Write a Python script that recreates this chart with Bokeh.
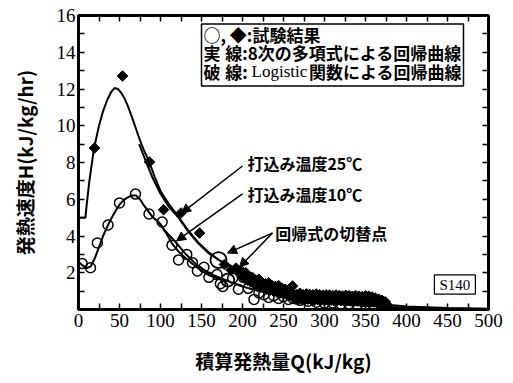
import math
from bokeh.plotting import figure
from bokeh.models import Range1d, FixedTicker, LinearAxis, Label, Arrow, NormalHead, BoxAnnotation
from bokeh.embed import file_html
from bokeh.resources import INLINE

# ---- measured data: 25°C placement (filled diamonds) ----
q25 = [19.5, 53.7, 86.6, 103.7, 125, 147.6, 178, 186, 192, 198,
       # descending band
       200, 204, 208, 212, 216, 220, 224, 228, 232, 236, 240, 244, 248, 252, 256, 261,
       202, 206, 210, 214, 218, 222, 226, 230, 234, 238, 242, 246, 250, 254, 258,
       # dense tail, upper row
       262, 266, 270, 274, 278, 282, 286, 290, 294, 298, 302, 306, 310, 314, 318, 322,
       326, 330, 334, 338, 342, 346, 350, 354, 358, 362, 366, 370, 374,
       # dense tail, lower row
       264, 268, 272, 276, 280, 284, 288, 292, 296, 300, 304, 308, 312, 316, 320, 324,
       328, 332, 336, 340, 344, 348, 352, 356, 360, 364, 368, 372, 376]
h25 = [8.79, 12.71, 8.03, 5.43, 5.25, 4.16, 2.45, 2.15, 2.25, 1.9,
       2.05, 2.0, 1.8, 1.75, 1.6, 1.65, 1.45, 1.4, 1.45, 1.3, 1.25, 1.3, 1.15, 1.1, 1.05, 1.28,
       1.7, 1.6, 1.5, 1.4, 1.35, 1.25, 1.2, 1.1, 1.05, 1.0, 0.95, 0.9, 0.85, 0.8, 0.78,
       0.85, 0.82, 0.88, 0.8, 0.85, 0.82, 0.8, 0.84, 0.8, 0.77, 0.8, 0.78, 0.75, 0.79, 0.76,
       0.73, 0.77, 0.75, 0.72, 0.76, 0.72, 0.7, 0.74, 0.72, 0.68, 0.62, 0.56, 0.5, 0.42,
       0.56, 0.54, 0.58, 0.52, 0.56, 0.52, 0.5, 0.54, 0.52, 0.48, 0.52, 0.5, 0.47, 0.5, 0.48,
       0.46, 0.49, 0.47, 0.45, 0.48, 0.46, 0.44, 0.47, 0.45, 0.42, 0.38, 0.34, 0.3, 0.27]

# ---- measured data: 10°C placement (open circles) ----
q10 = [4.5, 14.6, 23, 36, 50, 69.5, 86, 102, 114, 122, 132, 139, 145, 153, 159, 169,
       173, 176, 188, 195, 201, 207, 214, 220, 226, 232, 238, 244, 250, 256, 262, 270,
       280, 290, 300, 310, 320, 330, 340, 350, 360]
h10 = [2.5, 2.27, 3.62, 4.6, 5.8, 6.28, 5.2, 4.76, 3.5, 2.7, 3.0, 2.55, 2.1, 2.3, 1.75, 1.9,
       1.4, 1.25, 1.7, 1.1, 1.75, 1.15, 0.55, 0.9, 0.8, 0.65, 0.75, 0.6, 0.7, 0.55, 0.6, 0.5,
       0.45, 0.4, 0.35, 0.35, 0.3, 0.3, 0.25, 0.25, 0.2]

# ---- regression curves ----
poly25_q = [2, 8.5, 9.5, 11, 13, 15.5, 18, 21, 25, 30, 35, 40, 44, 48, 52, 56, 60, 65, 70,
            75, 80, 86.6, 93, 100, 110, 121, 133, 146, 159, 171]
poly25_h = [5.0, 5.0, 5.5, 6.1, 6.9, 7.7, 8.5, 9.2, 10.0, 10.8, 11.4, 11.85, 12.05, 12.0,
            11.8, 11.5, 11.1, 10.5, 9.85, 9.2, 8.65, 8.0, 7.2, 6.45, 5.75, 5.1, 4.35, 3.65,
            3.1, 2.7]
logi25_q = [74, 80, 90, 100, 110, 122, 133, 146, 159, 171, 185, 200, 215, 230, 250, 275,
            300, 330, 360, 380, 400, 450, 500]
logi25_h = [9.0, 8.3, 7.2, 6.3, 5.6, 5.0, 4.3, 3.6, 3.05, 2.7, 2.35, 2.0, 1.7, 1.42, 1.1,
            0.85, 0.65, 0.5, 0.38, 0.25, 0.17, 0.08, 0.04]
poly10_q = [0, 5, 10, 15, 20, 25, 30, 35, 40, 45, 50, 55, 60, 65, 70, 75, 80, 90, 100, 107,
            114, 121, 128, 140, 150, 160, 172, 182]
poly10_h = [2.6, 2.4, 2.25, 2.35, 2.8, 3.4, 4.0, 4.5, 4.95, 5.35, 5.7, 5.95, 6.1, 6.2, 6.2,
            6.0, 5.65, 5.05, 4.65, 4.15, 3.6, 3.2, 2.9, 2.45, 2.1, 1.85, 1.65, 1.55]
logi10_q = [95, 105, 118, 130, 145, 160, 182, 200, 220, 250, 275, 300, 330, 360, 400, 450, 500]
logi10_h = [4.9, 4.3, 3.7, 3.05, 2.4, 1.95, 1.55, 1.25, 1.0, 0.7, 0.5, 0.38, 0.26, 0.18,
            0.1, 0.05, 0.03]

# switching points between the two regressions
switch_q = [170.7, 182]
switch_h = [2.69, 1.6]

x_ticks = [0, 50, 100, 150, 200, 250, 300, 350, 400, 450, 500]
x_minor = [25, 75, 125, 175, 225, 275, 325, 375, 425, 475]
y_ticks = [2, 4, 6, 8, 10, 12, 14, 16]
y_minor = [1, 3, 5, 7, 9, 11, 13, 15]

JP = "Noto Sans CJK JP"
SERIF = "Liberation Serif"

p = figure(width=513, height=383, output_backend="svg", toolbar_location=None,
           x_range=Range1d(0, 500), y_range=Range1d(0, 16),
           min_border_left=78, min_border_right=25, min_border_top=15, min_border_bottom=74)
p.xgrid.visible = False
p.ygrid.visible = False
p.background_fill_color = "white"
p.border_fill_color = "white"
p.outline_line_color = "black"
p.outline_line_width = 3


def style_axis(ax):
    ax.axis_line_width = 3
    ax.axis_line_color = "black"
    ax.major_tick_in = 6
    ax.major_tick_out = 0
    ax.minor_tick_in = 6
    ax.minor_tick_out = 0
    ax.major_tick_line_width = 1.5
    ax.minor_tick_line_width = 1.5
    ax.major_tick_line_color = "black"
    ax.minor_tick_line_color = "black"
    ax.major_label_text_font = SERIF
    ax.major_label_text_font_size = "19px"
    ax.major_label_text_color = "black"
    ax.axis_label_text_font = JP
    ax.axis_label_text_font_size = "19px"
    ax.axis_label_text_font_style = "bold"
    ax.axis_label_text_color = "black"


p.xaxis.ticker = FixedTicker(ticks=x_ticks, minor_ticks=x_minor)
p.yaxis.ticker = FixedTicker(ticks=y_ticks, minor_ticks=y_minor)
style_axis(p.xaxis[0])
style_axis(p.yaxis[0])
p.xaxis.major_label_standoff = 4
p.yaxis.major_label_standoff = 3
p.xaxis.axis_label = "積算発熱量Q(kJ/kg)"
p.yaxis.axis_label = "発熱速度H(kJ/kg/hr)"
p.xaxis.axis_label_standoff = 17
p.yaxis.axis_label_standoff = 16

# unlabeled tick rows along the top and right edges
top_ax = LinearAxis(ticker=FixedTicker(ticks=[], minor_ticks=x_ticks + x_minor))
right_ax = LinearAxis(ticker=FixedTicker(ticks=[], minor_ticks=[0] + y_ticks + y_minor))
style_axis(top_ax)
style_axis(right_ax)
p.add_layout(top_ax, "above")
p.add_layout(right_ax, "right")

# curves
p.line(poly25_q, poly25_h, line_color="black", line_width=2)
p.line(logi25_q, logi25_h, line_color="black", line_width=2)
p.line(poly10_q, poly10_h, line_color="black", line_width=2)
p.line(logi10_q, logi10_h, line_color="black", line_width=2)

# measurements
p.scatter(q10, h10, marker="circle", size=10, fill_color=None, line_color="black", line_width=1.5)
p.scatter(q25, h25, marker="square", angle=math.pi / 4, size=7.5, fill_color="black",
          line_color="black")
p.scatter(switch_q, switch_h, marker="circle", size=[16, 13], fill_color=None,
          line_color="black", line_width=1.8)

# legend box
p.add_layout(BoxAnnotation(left=150, right=469.5, top=15.54, bottom=12.16, fill_color="white",
                           fill_alpha=1, line_color="black", line_width=1.5, line_alpha=1))


def lab(x, y, text, font=JP, size="17px", style="bold", align="left"):
    p.add_layout(Label(x=x, y=y, text=text, text_font=font, text_font_size=size,
                       text_font_style=style, text_color="black", text_baseline="middle",
                       text_align=align))


lab(152.4, 14.99, "○, ◆:試験結果")
lab(152.4, 13.96, "実")
lab(179, 13.96, "線:8次の多項式による回帰曲線")
lab(152.4, 12.93, "破")
lab(179, 12.93, "線:")
lab(211, 12.93, "Logistic", font=SERIF, style="normal")
lab(281, 12.93, "関数による回帰曲線")

# annotation texts
lab(206, 7.97, "打込み温度25℃", size="16px")
lab(206, 6.29, "打込み温度10℃", size="16px")
lab(240, 4.16, "回帰式の切替点", size="16px")

for (xs, ys, xe, ye) in [(200, 7.81, 125.6, 5.25), (200, 6.29, 119.5, 3.73),
                         (236.6, 4.16, 181.7, 3.07), (236.6, 4.16, 196.3, 2.31)]:
    p.add_layout(Arrow(x_start=xs, y_start=ys, x_end=xe, y_end=ye, line_width=1.5,
                       line_color="black",
                       end=NormalHead(size=9, fill_color="black", line_color="black")))

# sample id box
p.add_layout(BoxAnnotation(left=434, right=484, top=1.88, bottom=0.84, fill_color="white",
                           fill_alpha=1, line_color="black", line_width=1.2, line_alpha=1))
lab(459, 1.36, "S140", font=SERIF, size="15px", style="normal", align="center")

open("out.html", "w").write(file_html(p, INLINE))
